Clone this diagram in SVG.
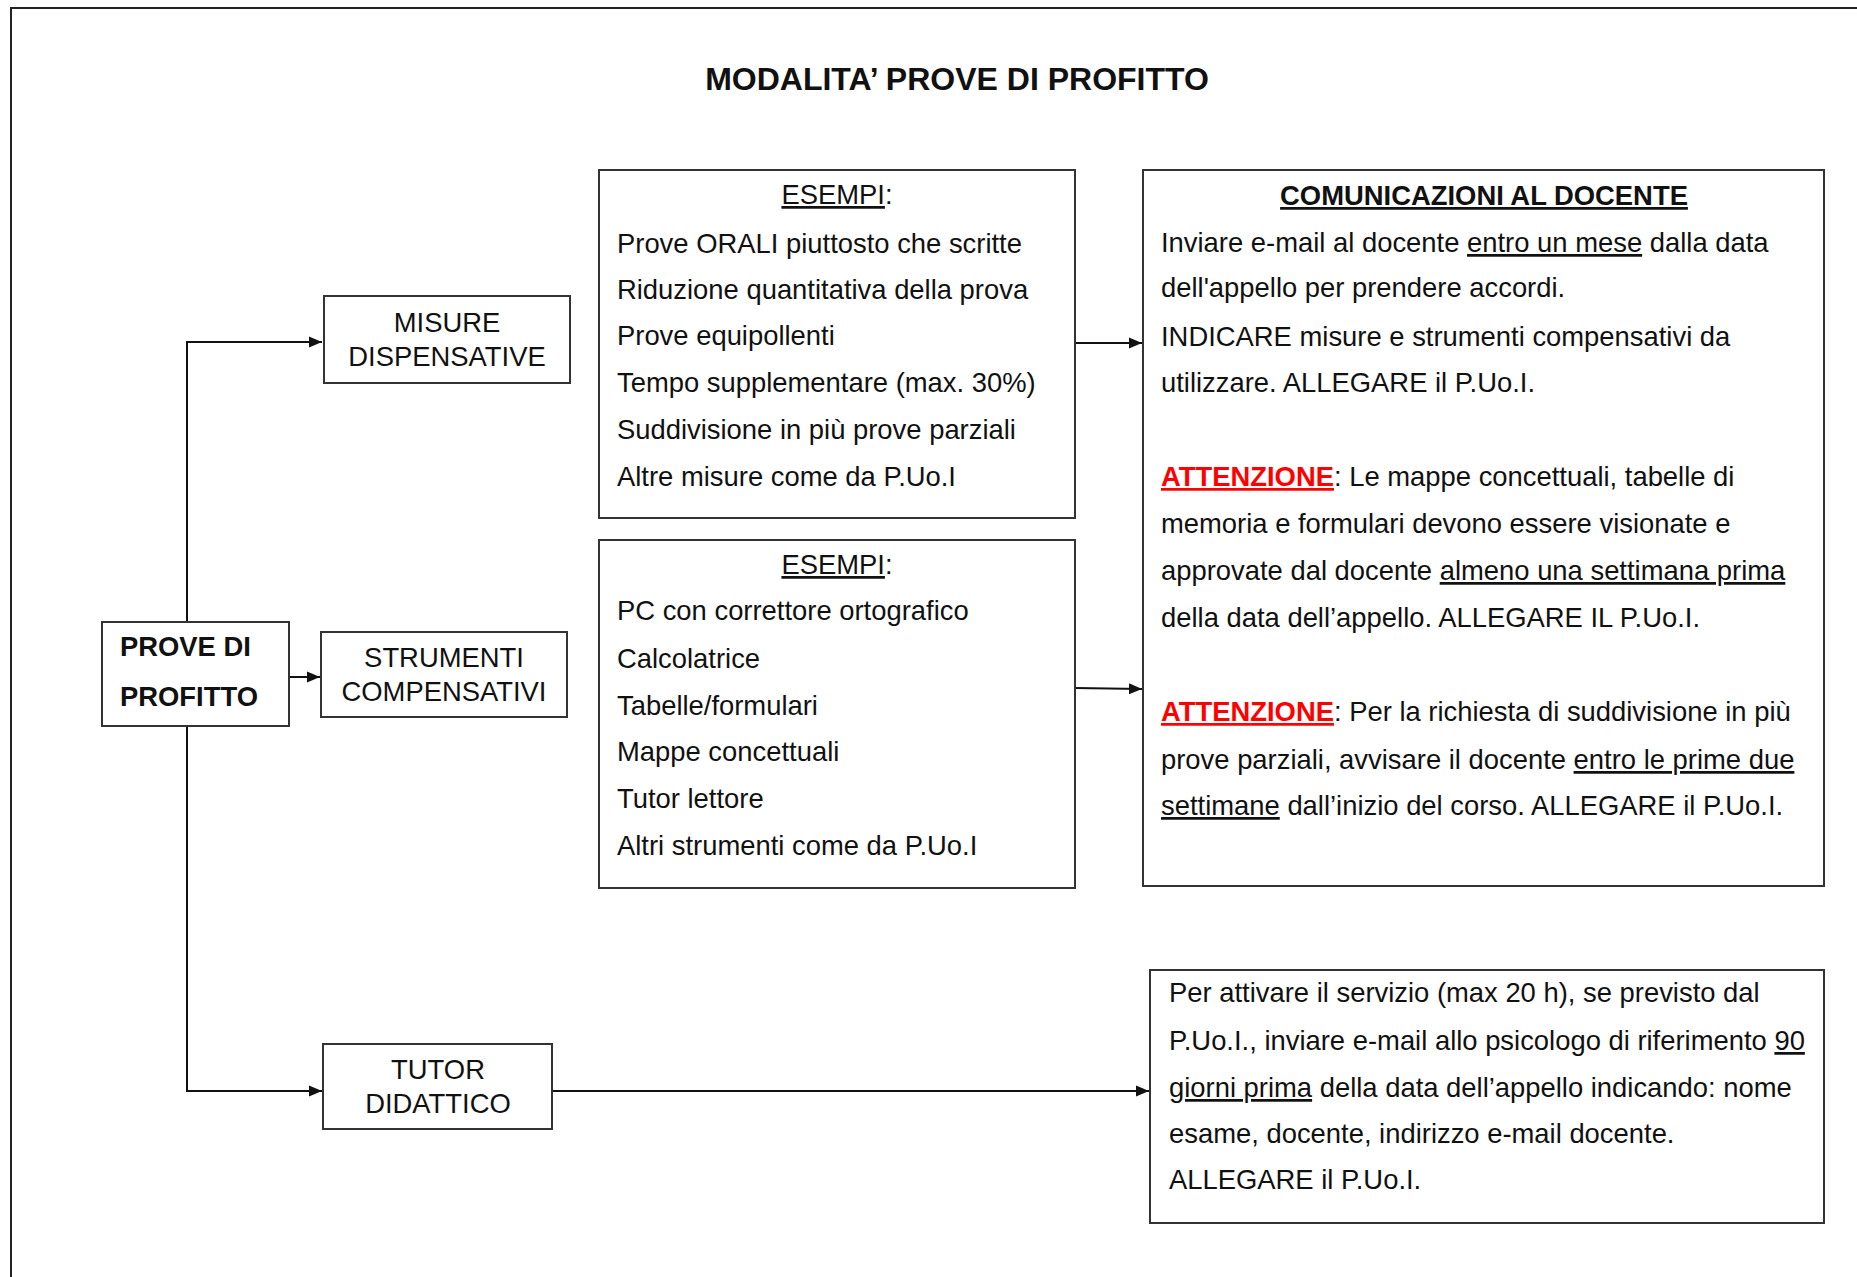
<svg xmlns="http://www.w3.org/2000/svg" width="1857" height="1277" viewBox="0 0 1857 1277">
<style>
text{font-family:"Liberation Sans",Arial,sans-serif;font-size:27.4px;fill:#111}
.b{font-weight:bold}
.t{font-size:32px;font-weight:bold}
.c{text-anchor:middle}
.box{fill:#fff;stroke:#333;stroke-width:2}
.ln{fill:none;stroke:#111;stroke-width:2}
.u{text-decoration:underline}
.red{fill:#f00;font-weight:bold;text-decoration:underline}
</style>
<defs>
<marker id="ah" markerUnits="userSpaceOnUse" markerWidth="14" markerHeight="14" refX="13" refY="7" orient="auto">
<path d="M0,1.5 L13,7 L0,12.5 Z" fill="#111"/>
</marker>
</defs>
<rect x="0" y="0" width="1857" height="1277" fill="#fff"/>
<path d="M11,1277 V8 H1857" fill="none" stroke="#222" stroke-width="2"/>
<text class="t c" x="957" y="90">MODALITA’ PROVE DI PROFITTO</text>

<g id="connectors">
<path class="ln" d="M187,622 V342 H322" marker-end="url(#ah)"/>
<path class="ln" d="M289,677 H320" stroke-width="3" marker-end="url(#ah)"/>
<path class="ln" d="M187,726 V1091 H322" marker-end="url(#ah)"/>
<path class="ln" d="M552,1091 H1149" marker-end="url(#ah)"/>
<path class="ln" d="M1075,343 H1142" marker-end="url(#ah)"/>
<path class="ln" d="M1075,688 L1142,689" marker-end="url(#ah)"/>
</g>

<g id="prove">
<rect class="box" x="102" y="622" width="187" height="104"/>
<text class="b" x="120" y="656">PROVE DI</text>
<text class="b" x="120" y="706">PROFITTO</text>
</g>

<g id="misure">
<rect class="box" x="324" y="296" width="246" height="87"/>
<text class="c" x="447" y="332">MISURE</text>
<text class="c" x="447" y="366">DISPENSATIVE</text>
</g>

<g id="strumenti">
<rect class="box" x="321" y="632" width="246" height="85"/>
<text class="c" x="444" y="667">STRUMENTI</text>
<text class="c" x="444" y="701">COMPENSATIVI</text>
</g>

<g id="tutor">
<rect class="box" x="323" y="1044" width="229" height="85"/>
<text class="c" x="438" y="1079">TUTOR</text>
<text class="c" x="438" y="1113">DIDATTICO</text>
</g>

<g id="esempi-misure">
<rect class="box" x="599" y="170" width="476" height="348"/>
<text class="c" x="837" y="204"><tspan class="u">ESEMPI</tspan>:</text>
<text x="617" y="253">Prove ORALI piuttosto che scritte</text>
<text x="617" y="299">Riduzione quantitativa della prova</text>
<text x="617" y="345">Prove equipollenti</text>
<text x="617" y="392">Tempo supplementare (max. 30%)</text>
<text x="617" y="439">Suddivisione in più prove parziali</text>
<text x="617" y="486">Altre misure come da P.Uo.I</text>
</g>

<g id="esempi-strumenti">
<rect class="box" x="599" y="540" width="476" height="348"/>
<text class="c" x="837" y="574"><tspan class="u">ESEMPI</tspan>:</text>
<text x="617" y="620">PC con correttore ortografico</text>
<text x="617" y="668">Calcolatrice</text>
<text x="617" y="715">Tabelle/formulari</text>
<text x="617" y="761">Mappe concettuali</text>
<text x="617" y="808">Tutor lettore</text>
<text x="617" y="855">Altri strumenti come da P.Uo.I</text>
</g>

<g id="comunicazioni">
<rect class="box" x="1143" y="170" width="681" height="716"/>
<text class="b c u" x="1484" y="205">COMUNICAZIONI AL DOCENTE</text>
<text x="1161" y="252">Inviare e-mail al docente <tspan class="u">entro un mese</tspan> dalla data</text>
<text x="1161" y="297">dell'appello per prendere accordi.</text>
<text x="1161" y="346">INDICARE misure e strumenti compensativi da</text>
<text x="1161" y="392">utilizzare. ALLEGARE il P.Uo.I.</text>
<text x="1161" y="486"><tspan class="red">ATTENZIONE</tspan>: Le mappe concettuali, tabelle di</text>
<text x="1161" y="533">memoria e formulari devono essere visionate e</text>
<text x="1161" y="580">approvate dal docente <tspan class="u">almeno una settimana prima</tspan></text>
<text x="1161" y="627">della data dell’appello. ALLEGARE IL P.Uo.I.</text>
<text x="1161" y="721"><tspan class="red">ATTENZIONE</tspan>: Per la richiesta di suddivisione in più</text>
<text x="1161" y="769">prove parziali, avvisare il docente <tspan class="u">entro le prime due</tspan></text>
<text x="1161" y="815"><tspan class="u">settimane</tspan> dall’inizio del corso. ALLEGARE il P.Uo.I.</text>
</g>

<g id="tutor-info">
<rect class="box" x="1150" y="970" width="674" height="253"/>
<text x="1169" y="1002">Per attivare il servizio (max 20 h), se previsto dal</text>
<text x="1169" y="1050">P.Uo.I., inviare e-mail allo psicologo di riferimento <tspan class="u">90</tspan></text>
<text x="1169" y="1097"><tspan class="u">giorni prima</tspan> della data dell’appello indicando: nome</text>
<text x="1169" y="1143">esame, docente, indirizzo e-mail docente.</text>
<text x="1169" y="1189">ALLEGARE il P.Uo.I.</text>
</g>
</svg>
